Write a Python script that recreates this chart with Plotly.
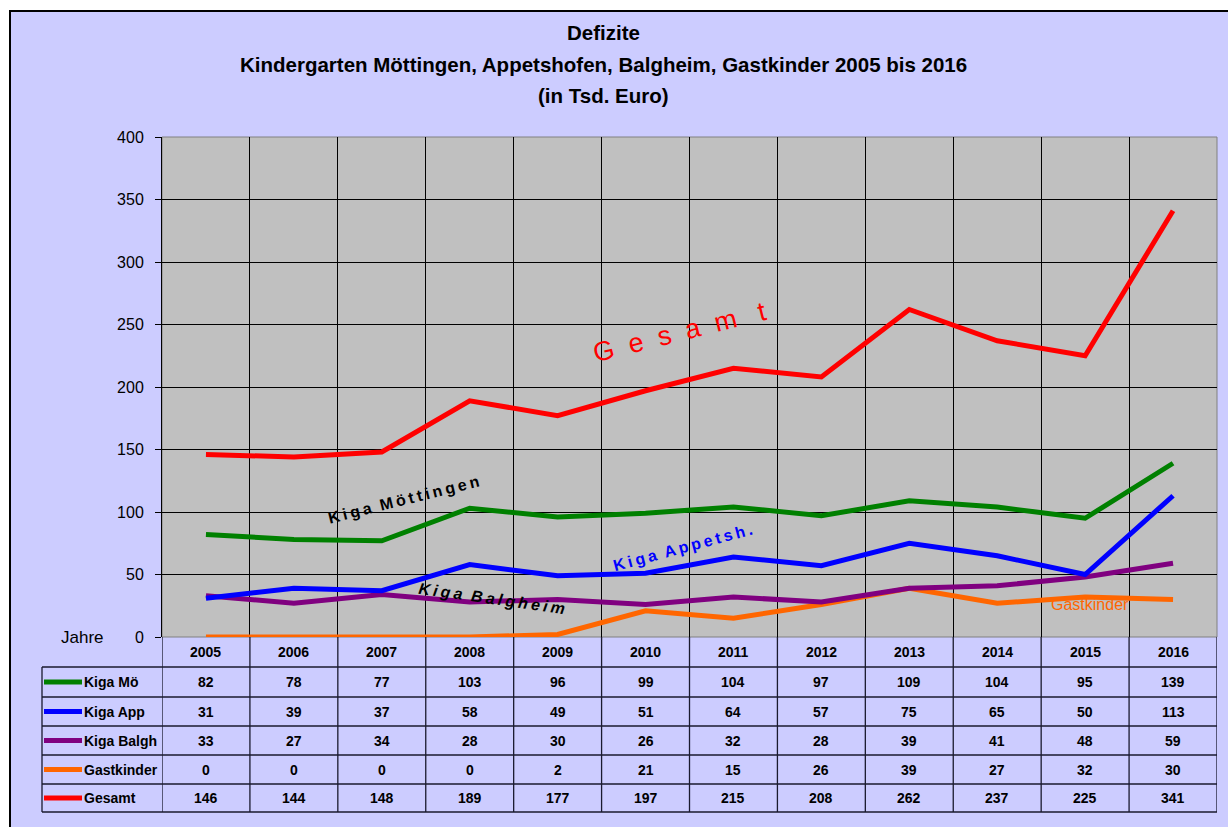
import plotly.graph_objects as go

years = [2005, 2006, 2007, 2008, 2009, 2010, 2011, 2012, 2013, 2014, 2015, 2016]
kiga_moe = [82, 78, 77, 103, 96, 99, 104, 97, 109, 104, 95, 139]
kiga_app = [31, 39, 37, 58, 49, 51, 64, 57, 75, 65, 50, 113]
kiga_balgh = [33, 27, 34, 28, 30, 26, 32, 28, 39, 41, 48, 59]
gastkinder = [0, 0, 0, 0, 2, 21, 15, 26, 39, 27, 32, 30]
gesamt = [146, 144, 148, 189, 177, 197, 215, 208, 262, 237, 225, 341]

row_names = ["Kiga Mö", "Kiga App", "Kiga Balgh", "Gastkinder", "Gesamt"]
row_values = [kiga_moe, kiga_app, kiga_balgh, gastkinder, gesamt]
row_colors = ["#008000", "#0000FF", "#800080", "#FF6600", "#FF0000"]
y_ticks = [0, 50, 100, 150, 200, 250, 300, 350, 400]
title_lines = ["Defizite",
               "Kindergarten Möttingen, Appetshofen, Balgheim, Gastkinder 2005 bis 2016",
               "(in Tsd. Euro)"]

W, H = 1228, 827
L, R, T, B = 162, 11, 137, 190
PW, PH = W - L - R, H - T - B
FONT = "Arial, Liberation Sans, sans-serif"
TS = "\u2009"  # thin space for letter spacing


def px_x(px):
    return (px - L) / PW


def px_y(py):
    return (H - B - py) / PH


def spaced(word):
    return TS.join(word)


fig = go.Figure()

order = [3, 2, 1, 0, 4]
for i in order:
    fig.add_trace(go.Scatter(
        x=years, y=row_values[i], mode="lines", name=row_names[i],
        line=dict(color=row_colors[i], width=5), showlegend=False,
        hoverinfo="x+y+name"))

shapes = []
shapes.append(dict(type="rect", xref="paper", yref="paper", layer="below",
                   x0=px_x(10), x1=px_x(1240), y0=px_y(11), y1=px_y(840),
                   fillcolor="#CCCCFF", line=dict(color="black", width=2)))
shapes.append(dict(type="rect", xref="paper", yref="paper", layer="below",
                   x0=0, x1=1, y0=0, y1=1, fillcolor="#C0C0C0",
                   line=dict(color="#808080", width=1)))

row_lines = [667, 697, 726, 755, 784, 812]
tcol = "#1a1a2e"
for py in row_lines:
    shapes.append(dict(type="line", xref="paper", yref="paper",
                       x0=px_x(42), x1=1, y0=px_y(py), y1=px_y(py),
                       line=dict(color=tcol, width=1.3)))
shapes.append(dict(type="line", xref="paper", yref="paper",
                   x0=px_x(42), x1=px_x(42), y0=px_y(667), y1=px_y(812),
                   line=dict(color=tcol, width=1.3)))
for k in range(len(years) + 1):
    xb = years[0] - 0.5 + k
    shapes.append(dict(type="line", xref="x", yref="paper",
                       x0=xb, x1=xb, y0=0, y1=px_y(812),
                       line=dict(color=tcol, width=1.3)))

annotations = []
for yr in years:
    annotations.append(dict(x=yr, y=px_y(652), xref="x", yref="paper",
                            text=str(yr), showarrow=False, xanchor="center", yanchor="middle",
                            font=dict(family=FONT, size=14, color="black", weight="bold")))
row_centers = [682, 711.5, 740.5, 769.5, 798]
for i, name in enumerate(row_names):
    cy = px_y(row_centers[i])
    shapes.append(dict(type="line", xref="paper", yref="paper",
                       x0=px_x(44), x1=px_x(82), y0=cy, y1=cy,
                       line=dict(color=row_colors[i], width=5)))
    annotations.append(dict(x=px_x(82), y=cy, xref="paper", yref="paper",
                            text=name, showarrow=False, xanchor="left", yanchor="middle",
                            font=dict(family=FONT, size=14, color="black", weight="bold")))
    for yr, v in zip(years, row_values[i]):
        annotations.append(dict(x=yr, y=cy, xref="x", yref="paper",
                                text=str(v), showarrow=False, xanchor="center", yanchor="middle",
                                font=dict(family=FONT, size=14, color="black", weight="bold")))

annotations.append(dict(x=px_x(82), y=px_y(637), xref="paper", yref="paper",
                        text="Jahre", showarrow=False, xanchor="center", yanchor="middle",
                        font=dict(family=FONT, size=17, color="black")))

for line, py in zip(title_lines, [32, 64, 96]):
    annotations.append(dict(x=px_x(603), y=px_y(py), xref="paper", yref="paper",
                            text=line, showarrow=False, xanchor="center", yanchor="middle",
                            font=dict(family=FONT, size=20.5, color="black", weight="bold")))

annotations.append(dict(x=2007.25, y=110, text=spaced("Kiga") + "  " + spaced("Möttingen"), textangle=-14,
                        showarrow=False, xanchor="center", yanchor="middle",
                        font=dict(family=FONT, size=16, color="black", weight="bold")))
annotations.append(dict(x=2010.42, y=72, text=spaced("Kiga") + "  " + spaced("Appetsh."), textangle=-15,
                        showarrow=False, xanchor="center", yanchor="middle",
                        font=dict(family=FONT, size=16, color="#0000FF", weight="bold")))
annotations.append(dict(x=2008.25, y=31, text=spaced("Kiga") + "  " + spaced("Balgheim"), textangle=8,
                        showarrow=False, xanchor="center", yanchor="middle",
                        font=dict(family=FONT, size=16, color="black", weight="bold", style="italic")))
annotations.append(dict(x=2010.39, y=244, text="G  e  s  a  m   t", textangle=-14,
                        showarrow=False, xanchor="center", yanchor="middle",
                        font=dict(family=FONT, size=27, color="#FF0000")))
annotations.append(dict(x=2015.05, y=26, text="Gastkinder", showarrow=False,
                        xanchor="center", yanchor="middle",
                        font=dict(family=FONT, size=16, color="#FF6600")))

fig.update_layout(
    width=W, height=H,
    margin=dict(l=L, r=R, t=T, b=B),
    paper_bgcolor="white",
    plot_bgcolor="rgba(0,0,0,0)",
    showlegend=False,
    shapes=shapes,
    annotations=annotations,
    xaxis=dict(range=[years[0] - 0.5, years[-1] + 0.5],
               tickvals=[y - 0.5 for y in years] + [years[-1] + 0.5],
               showticklabels=False, showgrid=True, gridcolor="#000000", gridwidth=1,
               zeroline=False, showline=False, ticks=""),
    yaxis=dict(range=[0, 400], tickvals=y_ticks, showgrid=True,
               gridcolor="#000000", gridwidth=1, zeroline=False,
               showline=True, linecolor="black", linewidth=1,
               ticks="outside", ticklen=6, tickcolor="black",
               ticklabelstandoff=8,
               tickfont=dict(family=FONT, size=16, color="black")),
)

fig.write_html("out.html",
               config={"displayModeBar": False},
               post_script="document.body.style.margin='0';document.body.style.padding='0';"
                           "document.body.style.overflow='hidden';")
